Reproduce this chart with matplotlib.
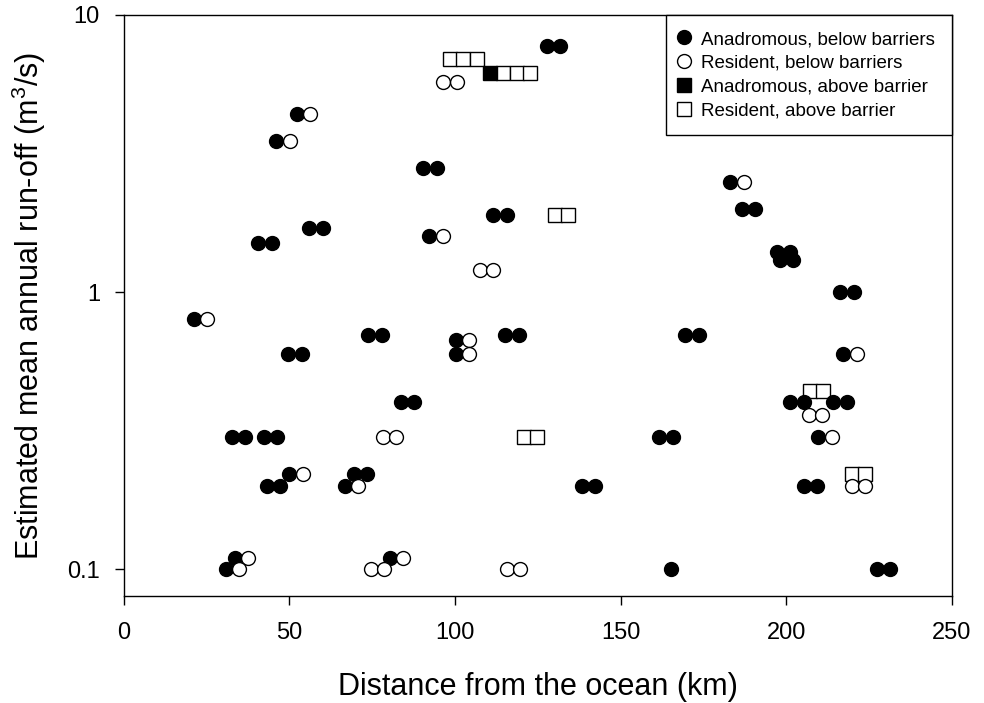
import matplotlib
matplotlib.use("Agg")
import matplotlib.pyplot as plt
from matplotlib.lines import Line2D
from matplotlib.ticker import NullLocator, FixedLocator, FixedFormatter

plt.rcParams['font.family'] = ['Liberation Sans', 'DejaVu Sans']
plt.rcParams['mathtext.fontset'] = 'custom'
plt.rcParams['mathtext.rm'] = 'Liberation Sans'
plt.rcParams['mathtext.it'] = 'Liberation Sans:italic'
plt.rcParams['mathtext.bf'] = 'Liberation Sans:bold'

# ---------------- data ----------------
# Anadromous, below barriers (filled circles)
anad_below_x = [52.3, 46.0, 90.5, 94.5, 56.0, 60.1, 40.7, 44.7, 92.3, 127.7, 131.7,
                111.6, 115.6, 183.0, 186.6, 190.6, 197.1, 201.1, 198.1, 202.1,
                216.2, 220.3, 21.2, 73.9, 77.9, 49.7, 53.8, 83.6, 87.7,
                32.6, 36.6, 42.4, 46.2, 50.0, 43.2, 47.2, 69.5, 73.6, 66.8,
                33.6, 30.9, 80.4, 100.3, 100.3, 115.1, 119.4, 169.5, 173.5,
                161.7, 165.7, 138.3, 142.3, 165.1, 217.2, 201.1, 205.4, 214.2, 218.3,
                209.7, 205.2, 209.2, 227.3, 231.3]
anad_below_y = [4.39, 3.5, 2.8, 2.8, 1.7, 1.7, 1.5, 1.5, 1.6, 7.75, 7.75,
                1.9, 1.9, 2.5, 2.0, 2.0, 1.4, 1.4, 1.31, 1.31,
                1.0, 1.0, 0.8, 0.7, 0.7, 0.6, 0.6, 0.4, 0.4,
                0.3, 0.3, 0.3, 0.3, 0.22, 0.2, 0.2, 0.22, 0.22, 0.2,
                0.11, 0.1, 0.11, 0.67, 0.6, 0.7, 0.7, 0.7, 0.7,
                0.3, 0.3, 0.2, 0.2, 0.1, 0.6, 0.4, 0.4, 0.4, 0.4,
                0.3, 0.2, 0.2, 0.1, 0.1]

# Resident, below barriers (open circles)
res_below_x = [56.3, 50.2, 96.3, 96.5, 100.5, 107.6, 111.6, 187.3, 25.3, 78.2, 82.2,
               54.1, 70.7, 37.6, 34.9, 84.4, 74.6, 78.6, 104.3, 104.3,
               115.6, 119.6, 221.3, 206.7, 210.7, 213.7, 219.8, 223.8]
res_below_y = [4.39, 3.5, 1.6, 5.71, 5.71, 1.2, 1.2, 2.5, 0.8, 0.3, 0.3,
               0.22, 0.2, 0.11, 0.1, 0.11, 0.1, 0.1, 0.67, 0.6,
               0.1, 0.1, 0.6, 0.36, 0.36, 0.3, 0.2, 0.2]

# Anadromous, above barrier (filled square)
anad_above_x = [110.6]
anad_above_y = [6.19]

# Resident, above barrier (open squares)
res_above_x = [98.5, 102.5, 106.6, 114.6, 118.7, 122.7, 130.2, 134.2,
               120.9, 124.9, 207.2, 211.0, 219.8, 223.8]
res_above_y = [6.92, 6.92, 6.92, 6.19, 6.19, 6.19, 1.9, 1.9,
               0.3, 0.3, 0.44, 0.44, 0.22, 0.22]

labels = ["Anadromous, below barriers", "Resident, below barriers",
          "Anadromous, above barrier", "Resident, above barrier"]
x_ticks = [0, 50, 100, 150, 200, 250]
y_ticks = [0.1, 1, 10]
y_tick_labels = ["0.1", "1", "10"]

# ---------------- figure ----------------
fig = plt.figure(figsize=(9.84, 7.03), dpi=100)
ax = fig.add_axes([0.1256, 0.1522, 0.8419, 0.8265])

cms = 10.0
sms = 9.5
mew = 1.0

h_ra, = ax.plot(res_above_x, res_above_y, ls='none', marker='s', ms=sms,
                mfc='white', mec='black', mew=mew, zorder=3)
h_aa, = ax.plot(anad_above_x, anad_above_y, ls='none', marker='s', ms=sms,
                mfc='black', mec='black', mew=mew, zorder=3.5)
h_ab, = ax.plot(anad_below_x, anad_below_y, ls='none', marker='o', ms=cms,
                mfc='black', mec='black', mew=mew, zorder=4)
h_rb, = ax.plot(res_below_x, res_below_y, ls='none', marker='o', ms=cms,
                mfc='white', mec='black', mew=mew, zorder=5)

ax.set_yscale('log')
ax.set_xlim(0, 250)
ax.set_ylim(0.08, 10)
ax.xaxis.set_major_locator(FixedLocator(x_ticks))
ax.yaxis.set_major_locator(FixedLocator(y_ticks))
ax.yaxis.set_major_formatter(FixedFormatter(y_tick_labels))
ax.yaxis.set_minor_locator(NullLocator())
ax.xaxis.set_minor_locator(NullLocator())

for sp in ax.spines.values():
    sp.set_linewidth(1.0)
ax.tick_params(axis='both', direction='out', length=6.5, width=1.0, labelsize=17)
ax.tick_params(axis='x', pad=12.5)
ax.tick_params(axis='y', pad=10.5)

ax.set_xlabel("Distance from the ocean (km)", fontsize=22, labelpad=20)
ax.set_ylabel("Estimated mean annual run-off (m$^3$/s)", fontsize=22, labelpad=14)

leg = ax.legend([h_ab, h_rb, h_aa, h_ra], labels, loc='upper left',
                bbox_to_anchor=(0.6548, 0.0, 0.3452, 1.0), mode='expand',
                borderaxespad=0, fontsize=13.5, frameon=True, fancybox=False,
                edgecolor='black', framealpha=1, borderpad=0.85,
                labelspacing=0.35, handlelength=0.2, handletextpad=0.84,
                markerscale=1.0)
leg.get_frame().set_linewidth(1.0)
leg.set_zorder(10)

fig.savefig("out.png", dpi=100)
